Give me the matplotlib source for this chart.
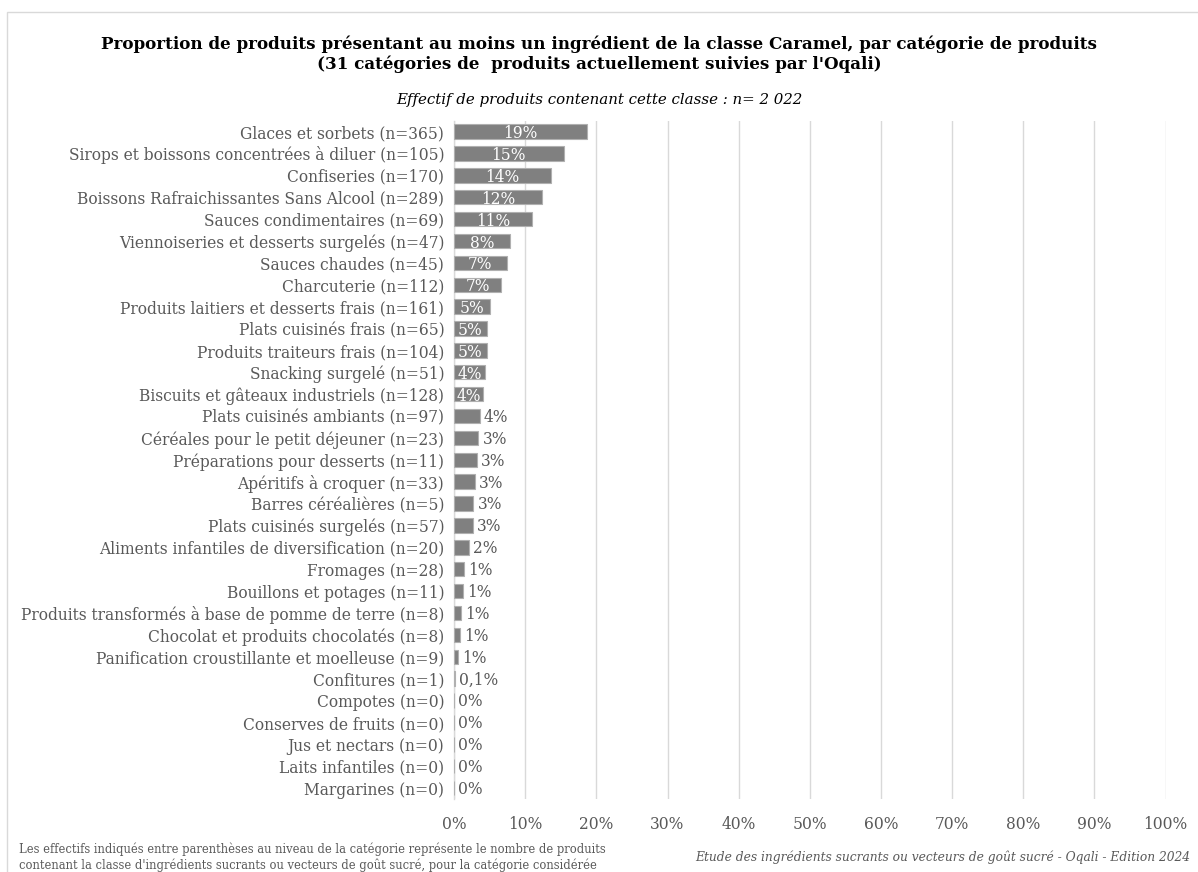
import matplotlib.pyplot as plt
import numpy as np
from matplotlib.patches import Rectangle

plt.rcParams['font.family'] = ['DejaVu Serif']

# Catégories et part de produits contenant au moins un ingrédient Caramel (%)
categories = [
    "Glaces et sorbets (n=365)",
    "Sirops et boissons concentrées à diluer (n=105)",
    "Confiseries (n=170)",
    "Boissons Rafraichissantes Sans Alcool (n=289)",
    "Sauces condimentaires (n=69)",
    "Viennoiseries et desserts surgelés (n=47)",
    "Sauces chaudes (n=45)",
    "Charcuterie (n=112)",
    "Produits laitiers et desserts frais (n=161)",
    "Plats cuisinés frais (n=65)",
    "Produits traiteurs frais (n=104)",
    "Snacking surgelé (n=51)",
    "Biscuits et gâteaux industriels (n=128)",
    "Plats cuisinés ambiants (n=97)",
    "Céréales pour le petit déjeuner (n=23)",
    "Préparations pour desserts (n=11)",
    "Apéritifs à croquer (n=33)",
    "Barres céréalières (n=5)",
    "Plats cuisinés surgelés (n=57)",
    "Aliments infantiles de diversification (n=20)",
    "Fromages (n=28)",
    "Bouillons et potages (n=11)",
    "Produits transformés à base de pomme de terre (n=8)",
    "Chocolat et produits chocolatés (n=8)",
    "Panification croustillante et moelleuse (n=9)",
    "Confitures (n=1)",
    "Compotes (n=0)",
    "Conserves de fruits (n=0)",
    "Jus et nectars (n=0)",
    "Laits infantiles (n=0)",
    "Margarines (n=0)",
]
parts = [18.7, 15.4, 13.6, 12.3, 11.0, 7.8, 7.4, 6.6, 5.1, 4.6, 4.6, 4.4, 4.1,
         3.6, 3.4, 3.2, 2.9, 2.7, 2.6, 2.1, 1.4, 1.3, 1.0, 0.8, 0.6, 0.1,
         0, 0, 0, 0, 0]
graduations = list(range(0, 101, 10))


def format_pct(v):
    if 0 < v < 0.5:
        return f"{v:.1f}%".replace('.', ',')
    return f"{round(v)}%"


fig = plt.figure(figsize=(11.98, 8.72), dpi=100)
ax = fig.add_axes([0.379, 0.0837, 0.594, 0.778])

y = np.arange(len(categories))
bars = ax.barh(y, parts, height=0.66, color='#808080',
               edgecolor='#b0b0b0', linewidth=0.8, zorder=3)

# étiquettes de valeur : dans la barre si elle est assez longue, sinon à droite
for bar, v in zip(bars, parts):
    yc = bar.get_y() + bar.get_height() / 2
    if v >= 4:
        ax.annotate(format_pct(v), (v / 2, yc), xytext=(0, -1.5),
                    textcoords='offset points', ha='center', va='center',
                    color='white', fontsize=11.2, zorder=4)
    else:
        ax.annotate(format_pct(v), (v, yc), xytext=(3, -1),
                    textcoords='offset points', ha='left', va='center',
                    color='#595959', fontsize=11.2, zorder=4)

ax.set_ylim(len(categories) - 0.5, -0.5)
ax.set_xlim(0, 100)
ax.set_yticks(y)
ax.set_yticklabels(categories)
ax.set_xticks(graduations)
ax.set_xticklabels([f"{g}%" for g in graduations])
ax.tick_params(axis='both', length=0, labelsize=11.2, labelcolor='#595959')
ax.tick_params(axis='x', pad=12)
ax.tick_params(axis='y', pad=7)

ax.grid(axis='x', color='#d9d9d9', linewidth=1, zorder=0)
for s in ['top', 'right', 'bottom']:
    ax.spines[s].set_visible(False)
ax.spines['left'].set_color('#d9d9d9')
ax.spines['left'].set_linewidth(1)

fig.text(0.5, 0.9375,
         "Proportion de produits présentant au moins un ingrédient de la classe Caramel, par catégorie de produits\n"
         "(31 catégories de  produits actuellement suivies par l'Oqali)",
         ha='center', va='center', fontsize=12.1, fontweight='bold',
         linespacing=1.2, color='black')
fig.text(0.5, 0.885, "Effectif de produits contenant cette classe : n= 2 022",
         ha='center', va='center', fontsize=10.8, style='italic', color='black')

fig.text(0.0159, 0.017,
         "Les effectifs indiqués entre parenthèses au niveau de la catégorie représente le nombre de produits\n"
         "contenant la classe d'ingrédients sucrants ou vecteurs de goût sucré, pour la catégorie considérée",
         ha='left', va='center', fontsize=8.3, color='#595959', linespacing=1.3)
fig.text(0.9933, 0.017,
         "Etude des ingrédients sucrants ou vecteurs de goût sucré - Oqali - Edition 2024",
         ha='right', va='center', fontsize=8.8, style='italic', color='#595959')

# cadre de la zone de graphique
fig.patches.append(Rectangle((7 / 1198, -0.05), 1.0, 1.05 - 12 / 872,
                             transform=fig.transFigure, fill=False,
                             edgecolor='#d9d9d9', linewidth=1))

fig.savefig('out.png', dpi=100, facecolor='white')
